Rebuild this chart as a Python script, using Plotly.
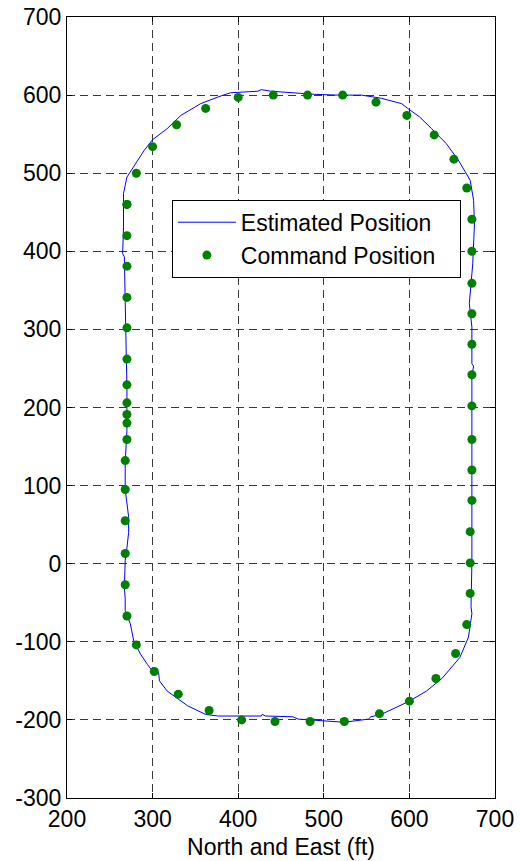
import plotly.graph_objects as go

# Estimated position trace (x, y)
est_x = [307, 300, 294, 286, 278, 274, 268, 268, 267, 268, 268, 270, 272, 272, 270, 268,
         268, 270, 270, 270, 269, 268, 268, 267, 265, 266, 266, 266, 270, 278, 290, 300,
         317, 333, 356, 380, 391, 423, 427, 438, 462, 489, 516, 544, 567, 591, 598, 612,
         626, 643, 657, 664, 671, 675, 676, 674, 670, 673, 673, 675, 673, 673, 673, 673,
         672, 673, 669, 659, 638, 620, 600, 567, 555, 552, 524, 501, 470, 464, 432, 428,
         427, 376, 362, 341, 333, 317, 308, 307]
est_y = [-139, -138, -129, -116, -99, -77, -60, -45, -30, -10, 4, 20, 40, 60, 75, 95,
         130, 170, 200, 230, 280, 330, 359, 393, 397, 430, 461, 474, 495, 508, 529, 543,
         557, 574, 589, 599, 603, 605, 607, 605, 603, 601, 600, 600, 596, 589, 583, 572,
         557, 538, 517, 504, 491, 465, 435, 384, 333, 303, 256, 253, 240, 196, 100, 0,
         -55, -64, -94, -120, -147, -163, -176, -193, -196, -199, -203, -201, -199, -196, -195, -193,
         -195, -195, -193, -182, -176, -163, -150, -139]

# Command positions
cmd_x = [302, 281, 270, 268, 268, 268, 268, 268, 270, 270, 270, 270, 270, 270, 270, 270,
         270, 270, 270, 270, 281, 300, 328, 362, 400, 441, 481, 522, 561, 597, 629, 652,
         667, 673, 673, 673, 673, 673, 673, 673, 673, 673, 673, 671, 671, 671, 667, 654,
         631, 600, 565, 524, 484, 443, 404, 366, 330]
cmd_y = [-138, -104, -67, -27, 13, 55, 95, 132, 159, 180, 191, 206, 229, 262, 302, 341,
         381, 420, 460, 460, 500, 534, 562, 583, 597, 600, 600, 600, 591, 574, 549, 518,
         481, 441, 400, 359, 320, 281, 242, 202, 159, 120, 81, 41, 1, -38, -78, -115,
         -147, -176, -192, -202, -202, -202, -200, -188, -167]

x_ticks = [200, 300, 400, 500, 600, 700]
y_ticks = [-300, -200, -100, 0, 100, 200, 300, 400, 500, 600, 700]

FONT = "Liberation Sans, Arial"
FS = 23

fig = go.Figure()
fig.add_trace(go.Scatter(x=est_x, y=est_y, mode="lines", name="Estimated Position\u2002\u2002",
                         line=dict(color="#0000FF", width=1), legendgroup="a"))
fig.add_trace(go.Scatter(x=cmd_x, y=cmd_y, mode="markers", name="Command Position",
                         marker=dict(color="#008000", size=9), legendgroup="b"))

axis_common = dict(
    showline=True, linecolor="black", linewidth=1, mirror="ticks",
    ticks="inside", ticklen=5, tickcolor="black",
    showgrid=True, gridcolor="#3a3a3a", gridwidth=1, griddash="8px,5px",
    zeroline=False, automargin=False,
    tickfont=dict(family=FONT, size=FS, color="black"),
)

fig.update_xaxes(range=[200, 700], tickvals=x_ticks, ticktext=[str(v) for v in x_ticks],
                 title=dict(text="North and East (ft)", font=dict(family=FONT, size=FS, color="black"), standoff=8),
                 **axis_common)
fig.update_yaxes(range=[-300, 700], tickvals=y_ticks, ticktext=[str(v) for v in y_ticks],
                 **axis_common)

fig.update_layout(
    width=521, height=861,
    margin=dict(l=67, r=26, t=17, b=63),
    paper_bgcolor="white", plot_bgcolor="white",
    showlegend=True,
    legend=dict(x=0.245, y=0.766, xanchor="left", yanchor="top",
                bgcolor="white", bordercolor="black", borderwidth=1,
                font=dict(family=FONT, size=FS, color="black"),
                tracegroupgap=0, itemwidth=58),
)

fig.write_html("out.html")
